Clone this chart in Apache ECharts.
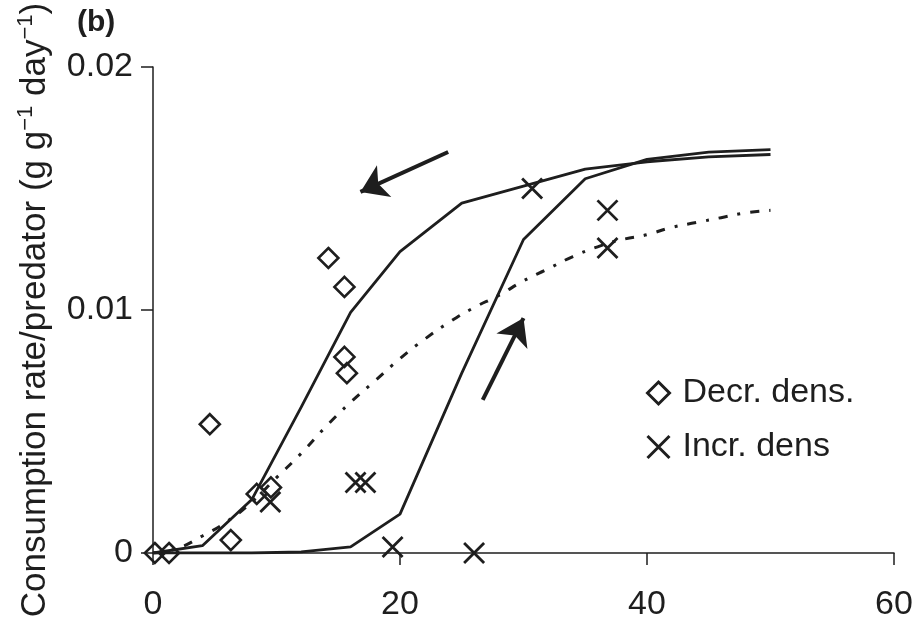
<!DOCTYPE html>
<html>
<head>
<meta charset="utf-8">
<script src="https://cdn.jsdelivr.net/npm/echarts@6/dist/echarts.min.js"></script>
<style>
  html, body { margin: 0; padding: 0; background: #fff; }
  #chart { width: 918px; height: 632px; }
</style>
</head>
<body>
<div id="chart"></div>
<script>
// Observed consumption rates (prey density on x, g g^-1 day^-1 on y)
const decrX = [0.15, 1.3, 4.6, 6.3, 8.4, 9.55, 14.2, 15.5, 15.5, 15.7];
const decrY = [0, 0, 0.0053, 0.00053, 0.00243, 0.0027, 0.01214, 0.01095, 0.00807, 0.0074];
const incrX = [9.5, 16.4, 17.2, 19.4, 26.0, 30.7, 36.8, 36.8];
const incrY = [0.0021, 0.0029, 0.0029, 0.00025, 0, 0.0150, 0.0141, 0.01255];

// Fitted response curves
const fitX = [0, 4, 8, 12, 16, 20, 25, 30, 35, 40, 45, 50];
const decrFit = [0, 0.0003, 0.0022, 0.0060, 0.0099, 0.0124, 0.0144, 0.0151, 0.0158, 0.0161, 0.0163, 0.0164];
const incrFit = [0, 0, 0, 0.00005, 0.00025, 0.0016, 0.0074, 0.0129, 0.0154, 0.0162, 0.0165, 0.0166];
const pooledX = [0, 2, 4, 6, 8, 10, 12, 14, 16, 18, 20, 22, 24, 26, 28, 30, 32, 34, 36, 38, 40, 42, 44, 46, 48, 50];
const pooledFit = [0, 0.0002, 0.0007, 0.0013, 0.0021, 0.0031, 0.0041, 0.0052, 0.0062, 0.0071, 0.0080, 0.0088, 0.0095,
                   0.0101, 0.0106, 0.0112, 0.0117, 0.0122, 0.0126, 0.0129, 0.0131, 0.0134, 0.0136, 0.0138, 0.0140, 0.0141];

// Direction arrows (start, tip) in data units
const arrowDown = [[23.9, 0.0165], [16.8, 0.01486]];
const arrowUp = [[26.7, 0.0063], [30.0, 0.00967]];

// Axis ticks
const xTicks = { min: 0, max: 60, interval: 20 };
const yTicks = { min: 0, max: 0.02, interval: 0.01 };

const INK = '#1e1e1e';
const FONT = '"Liberation Sans", Arial, Helvetica, sans-serif';
const zip = (xs, ys) => xs.map((x, i) => [x, ys[i]]);
const CROSS = 'path://M0,0L10,10M10,0L0,10';

const chart = echarts.init(document.getElementById('chart'), null, { renderer: 'canvas' });

chart.setOption({
  animation: false,
  backgroundColor: '#ffffff',
  title: {
    text: '(b)',
    left: 72, top: 3,
    textStyle: { fontFamily: FONT, fontSize: 30, fontWeight: 'bold', color: INK }
  },
  grid: {
    left: 153, right: 24, top: 67, bottom: 79,
    containLabel: false,
    outerBoundsMode: 'none'
  },
  legend: {
    orient: 'vertical',
    left: 646, top: 376,
    padding: 0,
    itemWidth: 22, itemHeight: 22,
    itemGap: 20,
    data: ['Decr. dens.', 'Incr. dens'],
    itemStyle: { borderWidth: 3 },
    textStyle: { fontFamily: FONT, fontSize: 34, color: INK, lineHeight: 34, padding: [0, 0, 0, 8] }
  },
  xAxis: {
    type: 'value',
    min: xTicks.min, max: xTicks.max, interval: xTicks.interval,
    axisLine: { onZero: false, lineStyle: { color: INK, width: 1.5 } },
    axisTick: { show: true, length: 12, lineStyle: { color: INK, width: 1.5 } },
    axisLabel: { fontFamily: FONT, fontSize: 34, color: INK, margin: 35 },
    splitLine: { show: false }
  },
  yAxis: {
    type: 'value',
    min: yTicks.min, max: yTicks.max, interval: yTicks.interval,
    name: '{a|Consumption rate/predator (g g}{s|\u22121}{a| day}{s|\u22121}{a|)}',
    nameLocation: 'middle',
    nameGap: 97,
    nameTextStyle: {
      fontFamily: FONT, color: INK,
      rich: {
        a: { fontFamily: FONT, fontSize: 35, color: INK, lineHeight: 41 },
        s: { fontFamily: FONT, fontSize: 22, color: INK, lineHeight: 24, verticalAlign: 'top' }
      }
    },
    axisLine: { show: true, lineStyle: { color: INK, width: 1.5 } },
    axisTick: { show: true, length: 12, lineStyle: { color: INK, width: 1.5 } },
    axisLabel: {
      fontFamily: FONT, fontSize: 34, color: INK, margin: 20,
      formatter: v => (v === 0 ? '0' : v.toFixed(2))
    },
    splitLine: { show: false }
  },
  series: [
    {
      name: 'decr-fit', type: 'line', data: zip(fitX, decrFit),
      showSymbol: false, silent: true, z: 2,
      lineStyle: { color: INK, width: 2.8 }
    },
    {
      name: 'incr-fit', type: 'line', data: zip(fitX, incrFit),
      showSymbol: false, silent: true, z: 2,
      lineStyle: { color: INK, width: 2.8 }
    },
    {
      name: 'pooled-fit', type: 'line', data: zip(pooledX, pooledFit),
      showSymbol: false, silent: true, smooth: true, z: 2,
      lineStyle: { color: INK, width: 3, type: [9, 10, 3, 10] }
    },
    {
      name: 'Decr. dens.', type: 'scatter', data: zip(decrX, decrY),
      symbol: 'diamond', symbolSize: 20, z: 3,
      itemStyle: { color: 'transparent', borderColor: INK, borderWidth: 2.6, opacity: 1 }
    },
    {
      name: 'Incr. dens', type: 'scatter', data: zip(incrX, incrY),
      symbol: CROSS, symbolSize: 20, z: 3,
      itemStyle: { color: 'transparent', borderColor: INK, borderWidth: 2.8, opacity: 1 }
    },
    {
      name: 'arrows', type: 'lines', coordinateSystem: 'cartesian2d',
      silent: true, z: 4,
      symbol: ['none', 'arrow'], symbolSize: [20, 26],
      lineStyle: { color: INK, width: 4, opacity: 1, curveness: 0 },
      data: [{ coords: arrowDown }, { coords: arrowUp }]
    }
  ]
});
</script>
</body>
</html>
